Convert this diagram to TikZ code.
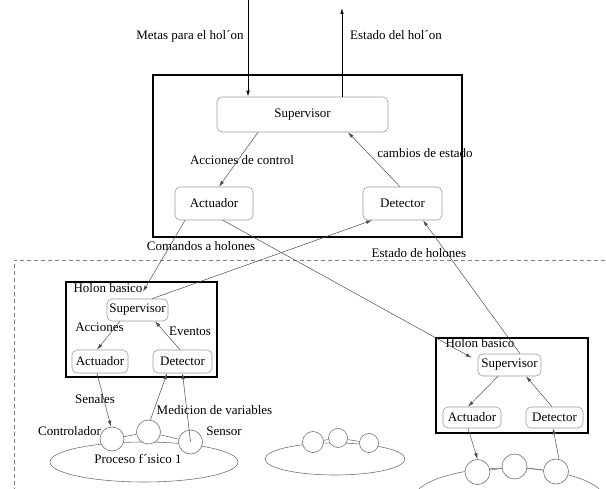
\documentclass[tikz,border=0pt]{standalone}
\usepackage{fontspec}
\setmainfont{Liberation Serif}
\usetikzlibrary{arrows.meta,shapes.geometric}

\begin{document}
\begin{tikzpicture}[x=1pt,y=-1pt,
  font=\fontsize{13}{15}\selectfont,
  box/.style={draw=black!40, rounded corners=5pt, line width=0.6pt, inner sep=0pt},
  frame/.style={draw=black, line width=1.3pt, inner sep=0pt},
  link/.style={draw=black!70, line width=0.5pt, -{Latex[length=6pt,width=3.5pt]}},
  lbl/.style={inner sep=0pt, text height=1.6ex, text depth=.3ex},
  unit/.style={circle, draw=black!55, fill=white, line width=0.6pt, minimum size=24pt, inner sep=0pt},
  plant/.style={ellipse, draw=black!55, line width=0.6pt, inner sep=0pt}]

\useasboundingbox (0,0) rectangle (606,489);

% lower level enclosure
\draw[draw=black!50, line width=0.5pt, dash pattern=on 4pt off 3pt]
  (14,520) -- (14,260) -- (606.5,260) -- (606.5,520);

% upper holon
\node[frame, minimum width=309, minimum height=162] (mainbox) at (307.5,156) {};
\node[box, minimum width=171, minimum height=35] (msup) at (302.5,114.5) {Supervisor};
\node[box, minimum width=78, minimum height=33] (mact) at (214,203.5) {Actuador};
\node[box, minimum width=79, minimum height=33] (mdet) at (402.5,203.5) {Detector};

\coordinate (topin) at (248,0);
\coordinate (topout) at (342,8);
\draw[link, draw=black, line width=0.8pt] (topin) -- (topin |- msup.north);
\draw[link, draw=black, line width=0.8pt] (topout |- msup.north) -- (topout);

\node[lbl] (lmetas) at (190,37) {Metas para el hol´on};
\node[lbl] (lestado) at (396,37) {Estado del hol´on};

\draw[link] ([xshift=-44.5pt]msup.south) -- ([xshift=5pt]mact.north);
\draw[link] ([xshift=-2.5pt]mdet.north) -- ([xshift=45.5pt]msup.south);
\node[lbl] (lacc) at (242,162) {Acciones de control};
\node[lbl] (lcamb) at (425,155) {cambios de estado};

% left basic holon
\node[frame, minimum width=151, minimum height=95] (hbox1) at (141.5,329.5) {};
\node[box, minimum width=61, minimum height=22] (lsup) at (137.5,310) {Supervisor};
\node[box, minimum width=56, minimum height=23] (lact) at (100,361.5) {Actuador};
\node[box, minimum width=59, minimum height=23] (ldet) at (182.5,361.5) {Detector};
\node[lbl] (lhb1) at (108,290) {Holon basico};
\draw[link] ([xshift=-17.5pt]lsup.south) -- ([xshift=-3pt]lact.north);
\draw[link] ([xshift=-2.5pt]ldet.north) -- ([xshift=17.5pt]lsup.south);
\node[lbl] (lacc1) at (99.5,329) {Acciones};
\node[lbl] (lev1) at (190,333) {Eventos};

% right basic holon
\node[frame, minimum width=152, minimum height=95] (hbox2) at (512,385.5) {};
\node[box, minimum width=63, minimum height=22] (rsup) at (509.5,365) {Supervisor};
\node[box, minimum width=58, minimum height=21] (ract) at (472,417.5) {Actuador};
\node[box, minimum width=57, minimum height=21] (rdet) at (554.5,417.5) {Detector};
\node[lbl] (lhb2) at (480,345) {Holon basico};
\draw[link] ([xshift=-11.5pt]rsup.south) -- ([xshift=-4pt]ract.north);
\draw[link] ([xshift=-2.5pt]rdet.north) -- ([xshift=16.5pt]rsup.south);

% links between the levels
\draw[link] ([xshift=-29pt]mact.south) -- ([xshift=5.5pt,yshift=7pt]lsup.north);
\draw[link] ([xshift=9pt]mact.south) -- ([xshift=-6pt,yshift=-4pt]rsup.north west);
\draw[link] ([xshift=14.5pt]lsup.north) -- ([xshift=-30.5pt]mdet.south);
\draw[link] ([xshift=10.5pt]rsup.north) -- ([xshift=20.5pt]mdet.south);
\node[lbl] (lcom) at (201,248) {Comandos a holones};
\node[lbl] (lesth) at (419,255) {Estado de holones};

% physical processes
\node[plant, minimum width=188, minimum height=40] (proc1) at (144,462) {};
\node[lbl] (lproc1) at (138,461) {Proceso f´ısico 1};
\node[plant, minimum width=140, minimum height=32] (proc2) at (335,459) {};
\node[plant, minimum width=192, minimum height=64] (proc3) at (509,500) {};

\node[unit] (lc1) at (112,439) {};
\node[unit] (lc2) at (148.5,432) {};
\node[unit] (lc3) at (190.5,442) {};
\draw[draw=black!55, line width=0.6pt] (lc1) -- (lc2) (lc2) -- (lc3);

\node[unit, minimum size=21pt] (mc1) at (313,442) {};
\node[unit, minimum size=19pt] (mc2) at (338,438) {};
\node[unit, minimum size=19pt] (mc3) at (369,443) {};
\draw[draw=black!55, line width=0.6pt] (mc1) -- (mc2) (mc2) -- (mc3);

\node[unit, minimum size=25pt] (rc1) at (477.5,472) {};
\node[unit, minimum size=25pt] (rc2) at (514.5,466.5) {};
\node[unit, minimum size=25pt] (rc3) at (556,471.5) {};
\draw[draw=black!55, line width=0.6pt] (rc1) -- (rc2) (rc2) -- (rc3);

% field connections
\draw[link] ([xshift=-3pt]lact.south) -- ([xshift=-1pt]lc1.north);
\draw[link] ([xshift=2pt]lc2.north) -- ([xshift=-15.5pt]ldet.south);
\draw[link] (lc3.center) -- (ldet.south);
\draw[link] ([xshift=-4pt]ract.south) -- (rc1.north);
\draw[link] ([xshift=3pt]rc3.north) -- ([xshift=-1.5pt]rdet.south);

\node[lbl] (lsen) at (95,401) {Senales};
\node[lbl] (lmed) at (214.5,412) {Medicion de variables};
\node[lbl] (lctrl) at (69.5,433) {Controlador};
\node[lbl] (lsens) at (224,433) {Sensor};

\end{tikzpicture}
\end{document}
